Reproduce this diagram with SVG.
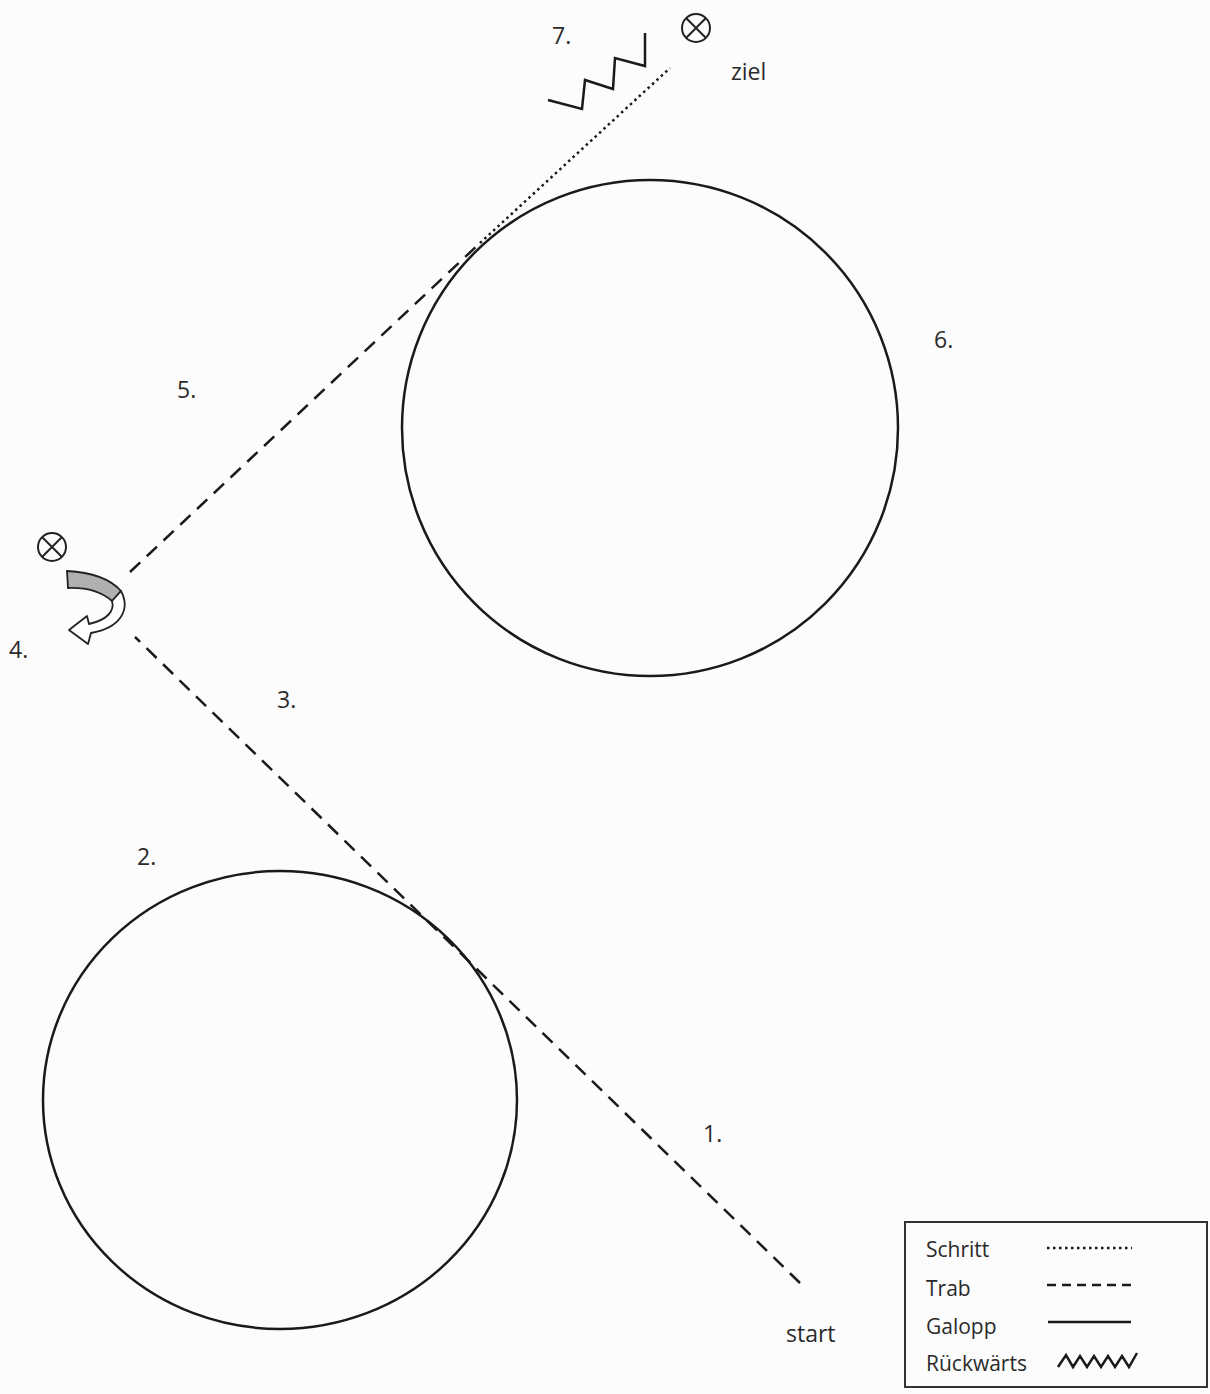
<svg xmlns="http://www.w3.org/2000/svg" width="1210" height="1394" viewBox="0 0 1210 1394">
<style>
.ln{fill:none;stroke:#1a1a1a;stroke-width:2.5;stroke-linecap:butt;stroke-linejoin:miter}
.trab{stroke-dasharray:14 9}
.schritt{stroke-dasharray:2.5 3.5}
.t{font-family:"Open Sans","Liberation Sans",sans-serif;font-size:23px;fill:#2a2a2a}
.lg{font-family:"Open Sans","Liberation Sans",sans-serif;font-size:21px;fill:#2a2a2a}
.x{fill:none;stroke:#222;stroke-width:2}
</style>
<rect width="1210" height="1394" fill="#fcfcfc"/>
<g id="circle-top"><circle class="ln" cx="650" cy="428" r="248"/></g>
<g id="circle-bottom"><ellipse class="ln" cx="280" cy="1100" rx="237" ry="229"/></g>
<g id="connectors">
<line class="ln trab" x1="800" y1="1283" x2="135" y2="637"/>
<line class="ln trab" x1="130" y1="572" x2="480" y2="243"/>
<line class="ln schritt" x1="480" y1="243" x2="670" y2="68"/>
<polyline class="ln" points="548,100 582,109 585,80 613,89 615,58 645,66 645,33"/>
</g>
<g id="target-top"><circle class="x" cx="696" cy="28" r="14"/><path class="x" d="M686,18 L706,38 M706,18 L686,38"/></g>
<g id="target-left"><circle class="x" cx="52" cy="547" r="14"/><path class="x" d="M42,537 L62,557 M62,537 L42,557"/></g>
<g id="turn-arrow">
<path d="M67,571 Q105,573 121,591 L112,601 Q96,587 68,588 Z" fill="#b0b0b0" stroke="#222" stroke-width="1.8"/>
<path d="M121,591 C131,610 120,628 91,633 L88,644 L69,630 L87,616 L89,624 C107,620 115,611 112,601 Z" fill="#fff" stroke="#222" stroke-width="1.8" stroke-linejoin="round"/>
</g>
<g id="labels">
<text class="t" x="552" y="44">7.</text>
<text class="t" x="731" y="80">ziel</text>
<text class="t" x="934" y="348">6.</text>
<text class="t" x="177" y="398">5.</text>
<text class="t" x="9" y="658">4.</text>
<text class="t" x="277" y="708">3.</text>
<text class="t" x="137" y="865">2.</text>
<text class="t" x="703" y="1142">1.</text>
<text class="t" x="786" y="1342">start</text>
</g>
<g id="legend">
<rect x="905" y="1222" width="302" height="165" fill="none" stroke="#333" stroke-width="2"/>
<text class="lg" x="926" y="1257">Schritt</text>
<text class="lg" x="926" y="1296">Trab</text>
<text class="lg" x="926" y="1334">Galopp</text>
<text class="lg" x="926" y="1371">Rückwärts</text>
<line class="ln schritt" x1="1047" y1="1248" x2="1132" y2="1248" stroke-width="2.5"/>
<line class="ln" x1="1047" y1="1285" x2="1132" y2="1285" stroke-dasharray="9 6"/>
<line class="ln" x1="1048" y1="1322" x2="1131" y2="1322"/>
<polyline class="ln" stroke-width="2" points="1058,1367 1066,1355 1073,1367 1080,1356 1087,1367 1094,1356 1101,1367 1108,1356 1115,1367 1122,1356 1129,1367 1137,1353"/>
</g>
</svg>
